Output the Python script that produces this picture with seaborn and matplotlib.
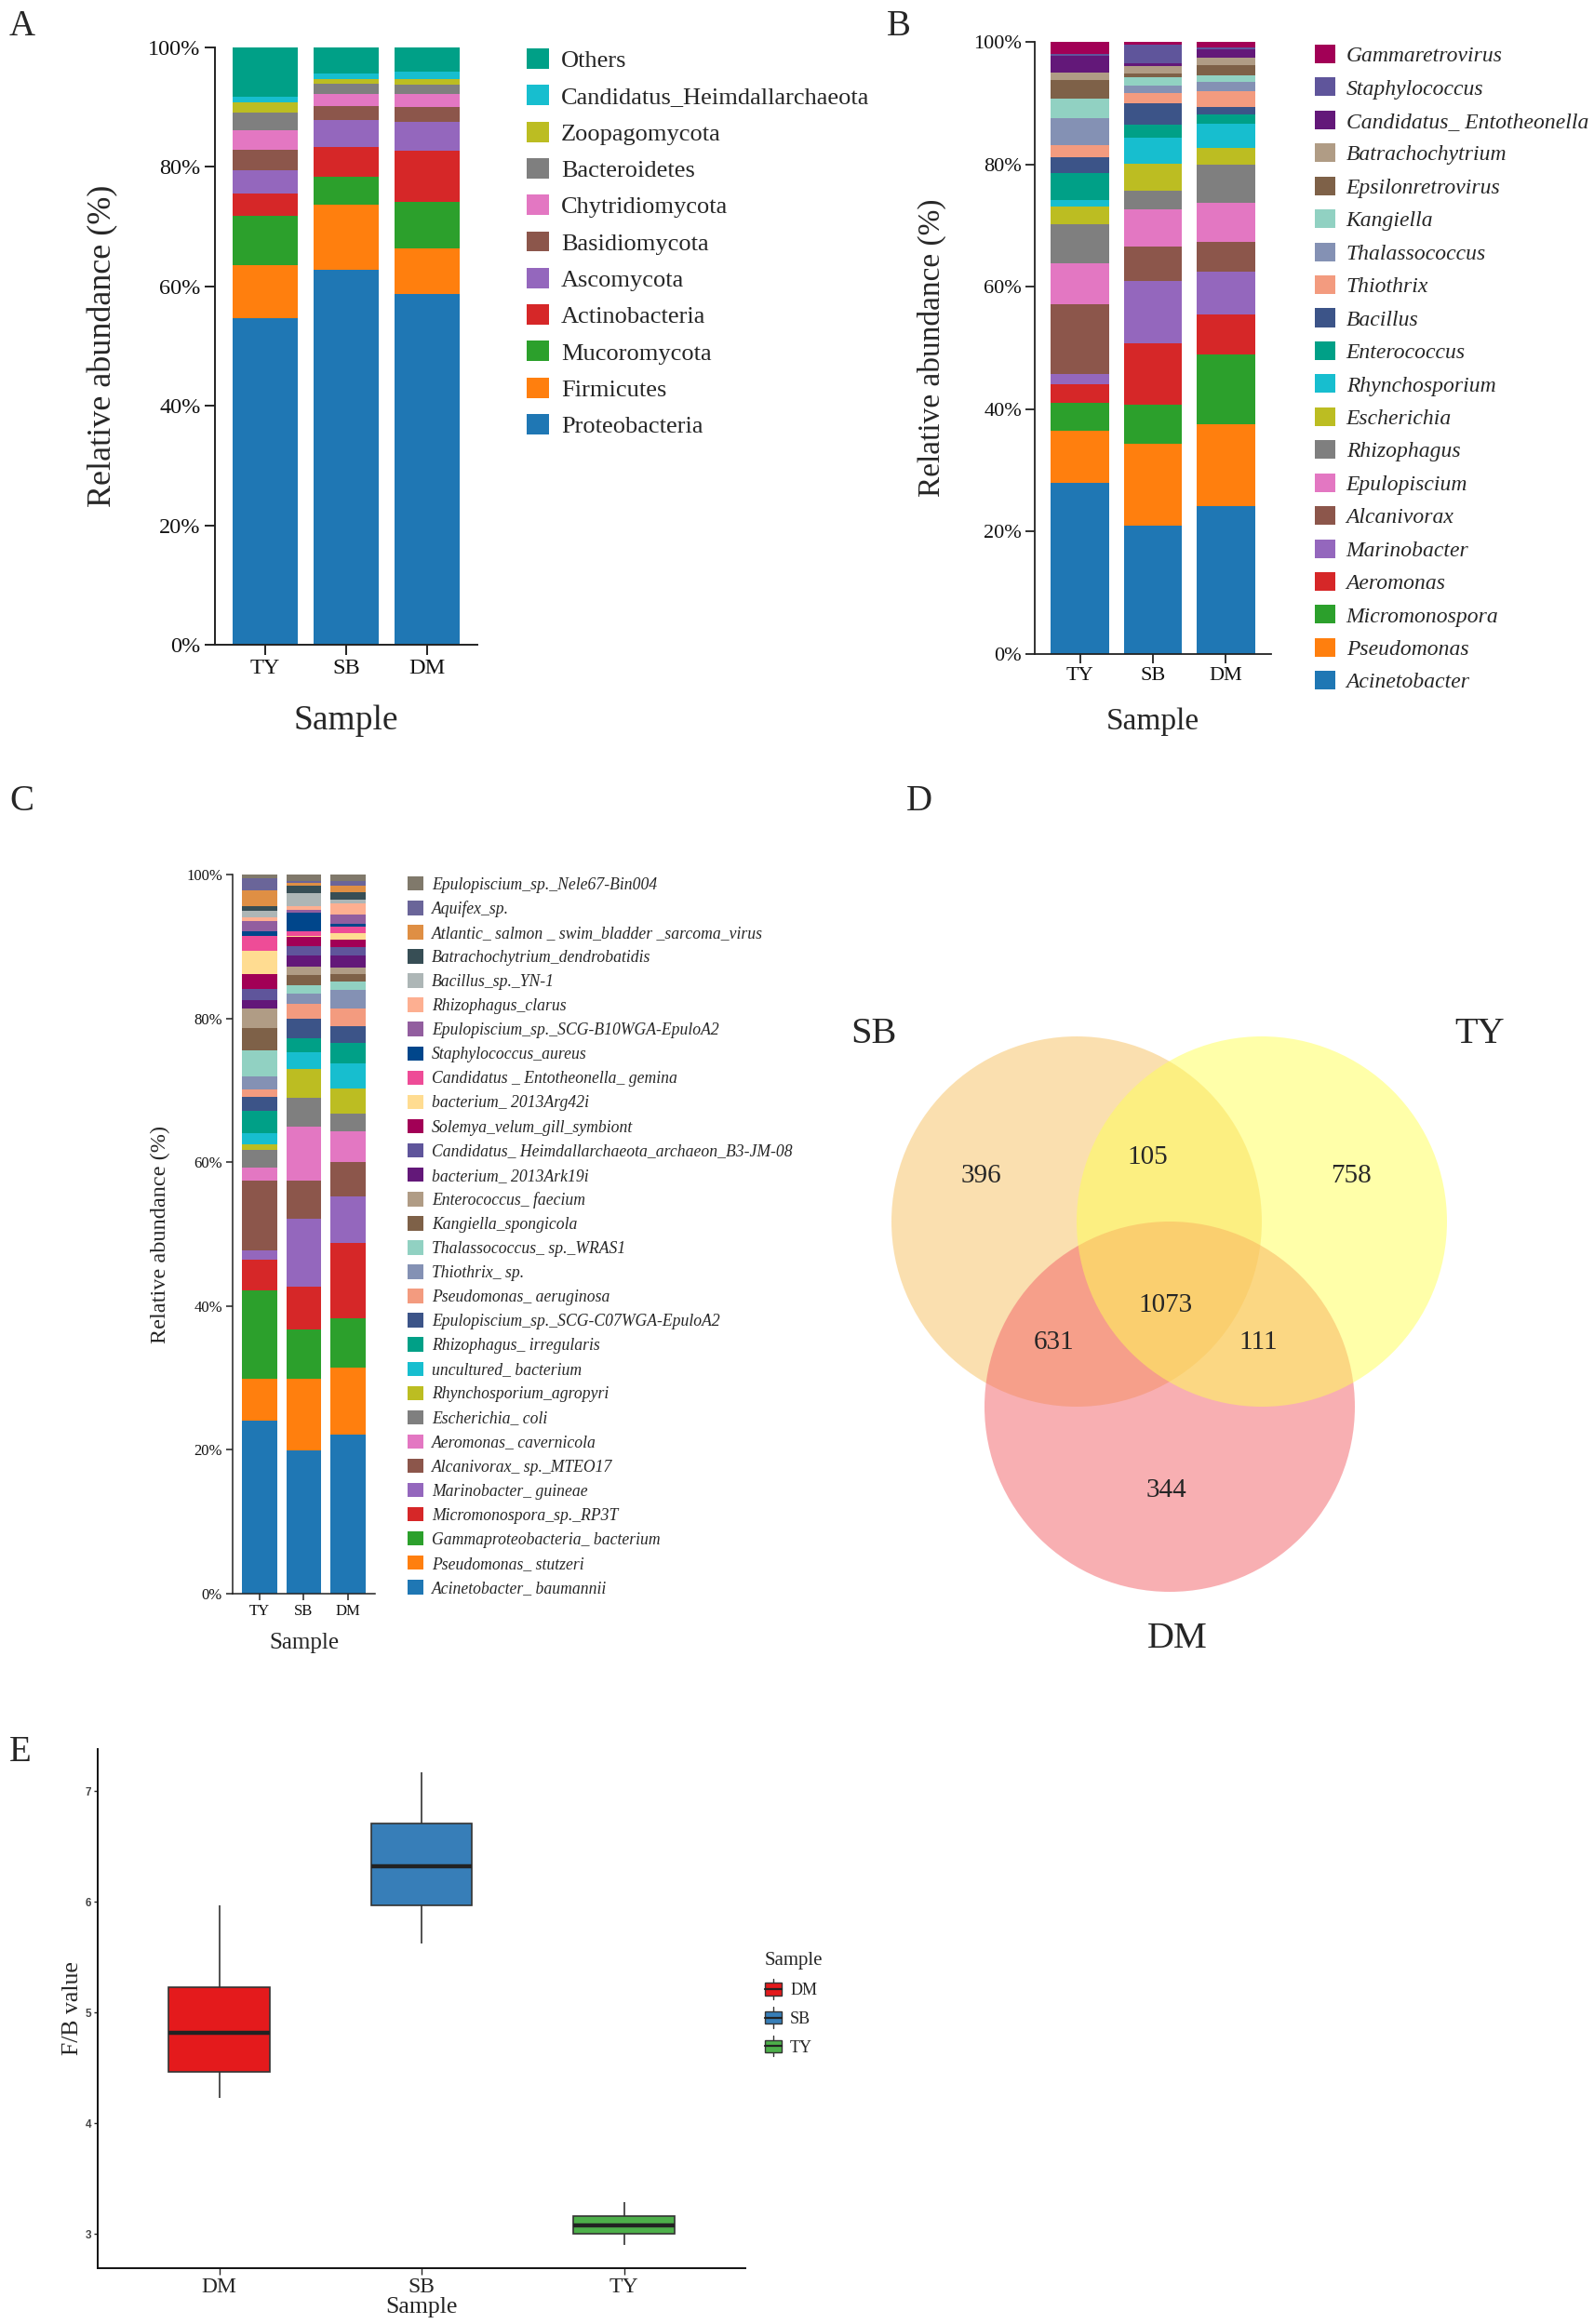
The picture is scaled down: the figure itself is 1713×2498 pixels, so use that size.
import numpy as np
import pandas as pd
import matplotlib
matplotlib.use("Agg")
import matplotlib.pyplot as plt
import seaborn as sns
from matplotlib.patches import Patch, Rectangle, Circle
from matplotlib.lines import Line2D
from matplotlib.legend_handler import HandlerBase

# ------------------------------------------------------------------ data
samples = ["TY", "SB", "DM"]

# Panel A  (listed bottom -> top of the stack)
phyla = ["Proteobacteria", "Firmicutes", "Mucoromycota", "Actinobacteria", "Ascomycota",
         "Basidiomycota", "Chytridiomycota", "Bacteroidetes", "Zoopagomycota",
         "Candidatus_Heimdallarchaeota", "Others"]
phyla_TY = [54.7, 8.9, 8.2, 3.7, 3.9, 3.5, 3.3, 2.9, 1.7, 1.0, 8.2]
phyla_SB = [62.7, 10.9, 4.8, 4.9, 4.6, 2.3, 2.0, 1.8, 0.7, 0.9, 4.4]
phyla_DM = [58.7, 7.7, 7.8, 8.5, 4.8, 2.6, 2.1, 1.6, 0.9, 1.2, 4.1]

# Panel B  (bottom -> top)
genera = ["Acinetobacter", "Pseudomonas", "Micromonospora", "Aeromonas", "Marinobacter",
          "Alcanivorax", "Epulopiscium", "Rhizophagus", "Escherichia", "Rhynchosporium",
          "Enterococcus", "Bacillus", "Thiothrix", "Thalassococcus", "Kangiella",
          "Epsilonretrovirus", "Batrachochytrium", "Candidatus_ Entotheonella",
          "Staphylococcus", "Gammaretrovirus"]
genera_TY = [27.9, 8.5, 4.7, 3.0, 1.7, 11.3, 6.8, 6.3, 2.9, 1.0, 4.4, 2.6, 2.1, 4.3, 3.3,
             3.0, 1.2, 2.7, 0.3, 2.0]
genera_SB = [21.0, 13.4, 6.3, 10.1, 10.1, 5.7, 6.0, 3.1, 4.4, 4.3, 2.1, 3.5, 1.6, 1.3, 1.3,
             0.6, 1.2, 0.5, 3.1, 0.4]
genera_DM = [24.2, 13.3, 11.4, 6.5, 7.0, 5.0, 6.3, 6.3, 2.7, 3.9, 1.5, 1.2, 2.7, 1.5, 1.0,
             1.7, 1.2, 1.4, 0.3, 0.9]

# Panel C  (bottom -> top)
species = ["Acinetobacter_ baumannii", "Pseudomonas_ stutzeri", "Gammaproteobacteria_ bacterium",
           "Micromonospora_sp._RP3T", "Marinobacter_ guineae", "Alcanivorax_ sp._MTEO17",
           "Aeromonas_ cavernicola", "Escherichia_ coli", "Rhynchosporium_agropyri",
           "uncultured_ bacterium", "Rhizophagus_ irregularis", "Epulopiscium_sp._SCG-C07WGA-EpuloA2",
           "Pseudomonas_ aeruginosa", "Thiothrix_ sp.", "Thalassococcus_ sp._WRAS1",
           "Kangiella_spongicola", "Enterococcus_ faecium", "bacterium_ 2013Ark19i",
           "Candidatus_ Heimdallarchaeota_archaeon_B3-JM-08", "Solemya_velum_gill_symbiont",
           "bacterium_ 2013Arg42i", "Candidatus _ Entotheonella_ gemina", "Staphylococcus_aureus",
           "Epulopiscium_sp._SCG-B10WGA-EpuloA2", "Rhizophagus_clarus", "Bacillus_sp._YN-1",
           "Batrachochytrium_dendrobatidis", "Atlantic_ salmon _ swim_bladder _sarcoma_virus",
           "Aquifex_sp.", "Epulopiscium_sp._Nele67-Bin004"]
species_TY = [24.1, 5.8, 12.3, 4.2, 1.3, 9.7, 1.8, 2.5, 0.8, 1.5, 3.2, 1.9, 1.0, 1.8, 3.6,
              3.2, 2.7, 1.2, 1.5, 2.0, 3.3, 2.0, 0.65, 1.45, 0.55, 0.85, 0.65, 2.3, 1.65, 0.5]
species_SB = [19.9, 10.0, 6.9, 5.9, 9.4, 5.3, 7.6, 4.0, 3.9, 2.4, 1.9, 2.8, 2.0, 1.4, 1.2,
              1.4, 1.2, 1.6, 1.2, 1.3, 0.15, 0.6, 2.6, 0.4, 0.6, 1.7, 1.1, 0.35, 0.25, 0.95]
species_DM = [22.1, 9.3, 6.9, 10.5, 6.5, 4.7, 4.3, 2.4, 3.5, 3.6, 2.8, 2.3, 2.5, 2.5, 1.2,
              1.1, 0.9, 1.6, 1.2, 1.0, 0.9, 1.0, 0.4, 1.2, 1.6, 0.5, 1.0, 1.0, 0.6, 0.9]

# Panel D  (Venn counts)
venn_sets = ["SB", "TY", "DM"]
venn_regions = ["SB", "SB&TY", "TY", "SB&TY&DM", "SB&DM", "TY&DM", "DM"]
venn_counts = [396, 105, 758, 1073, 631, 111, 344]

# Panel E  (F/B values per sample)
fb_groups = ["DM", "SB", "TY"]
fb_DM = [4.23, 4.46, 4.82, 5.23, 5.97]
fb_SB = [5.62, 5.97, 6.32, 6.71, 7.17]
fb_TY = [2.90, 3.00, 3.08, 3.16, 3.29]

# ------------------------------------------------------------------ style
tab10 = ["#1f77b4", "#ff7f0e", "#2ca02c", "#d62728", "#9467bd", "#8c564b", "#e377c2",
         "#7f7f7f", "#bcbd22", "#17becf"]
extra = ["#00A087", "#3C5488", "#F39B7F", "#8491B4", "#91D1C2", "#7E6148", "#B09C85",
         "#631879", "#5F559B", "#A20056", "#FFDC91", "#EE4C97", "#00468B", "#925E9F",
         "#FDAF91", "#ADB6B6", "#374E55", "#DF8F44", "#6A6599", "#80796B"]
colors_A = tab10 + ["#00A087"]
colors_B = tab10 + extra[:10]
colors_C = tab10 + extra
box_colors = ["#E41A1C", "#377EB8", "#4DAF4A"]
venn_colors = {"SB": "#F7C161", "TY": "#FFFF55", "DM": "#F36167"}

sns.set_style("ticks")
plt.rcParams["font.family"] = ["Liberation Serif", "DejaVu Serif"]
plt.rcParams["axes.edgecolor"] = "#222222"

W, H = 1713, 2498
fig = plt.figure(figsize=(W / 100, H / 100), dpi=100)


def fig_rect(x0, y0, x1, y1):
    return [x0 / W, 1 - y1 / H, (x1 - x0) / W, (y1 - y0) / H]


def stacked_panel(ax, names, values, colors, tick_fs, ylab_fs, xlab_fs, ylabpad, xlabpad,
                  ticklen, lw):
    df = pd.DataFrame(values, index=names, columns=samples)
    cum = df.cumsum()
    for i in range(len(names) - 1, -1, -1):
        sns.barplot(x=samples, y=cum.iloc[i].values, order=samples, color=colors[i],
                    saturation=1, width=0.8, linewidth=0, errorbar=None, ax=ax)
    ax.set_xlim(-0.62, 2.62)
    ax.set_ylim(0, 100)
    ax.set_yticks([0, 20, 40, 60, 80, 100])
    ax.set_yticklabels([f"{v}%" for v in [0, 20, 40, 60, 80, 100]])
    sns.despine(ax=ax)
    for s in ["left", "bottom"]:
        ax.spines[s].set_linewidth(lw)
    ax.tick_params(axis="both", labelsize=tick_fs, length=ticklen, width=lw,
                   colors="#222222", labelcolor="#111111", pad=3)
    ax.set_ylabel("Relative abundance (%)", fontsize=ylab_fs, labelpad=ylabpad)
    ax.set_xlabel("Sample", fontsize=xlab_fs, labelpad=xlabpad)


def stack_legend(names, colors, anchor, fs, hl, ls, italic):
    handles = [Patch(facecolor=c, edgecolor="none") for c in colors][::-1]
    labels = list(names)[::-1]
    prop = {"size": fs}
    if italic:
        prop["style"] = "italic"
    fig.legend(handles, labels, loc="upper left", bbox_to_anchor=anchor,
               bbox_transform=fig.transFigure, frameon=False, prop=prop,
               handlelength=hl, handleheight=hl, handletextpad=0.5,
               labelspacing=ls, borderpad=0, borderaxespad=0)


# ------------------------------------------------------------------ A
axA = fig.add_axes(fig_rect(231, 51, 513, 693))
valsA = np.column_stack([phyla_TY, phyla_SB, phyla_DM])
stacked_panel(axA, phyla, valsA, colors_A, 17.5, 26, 27, 23, 20, 8, 1.4)
stack_legend(phyla, colors_A, (566 / W, 1 - 52 / H), 19, 0.9, 0.54, False)

# ------------------------------------------------------------------ B
axB = fig.add_axes(fig_rect(1112, 45, 1366, 703))
valsB = np.column_stack([genera_TY, genera_SB, genera_DM])
stacked_panel(axB, genera, valsB, colors_B, 16, 24, 24, 21, 18, 7, 1.3)
stack_legend(genera, colors_B, (1413 / W, 1 - 48 / H), 17, 0.93, 0.52, True)

# ------------------------------------------------------------------ C
axC = fig.add_axes(fig_rect(250, 940, 403, 1713))
valsC = np.column_stack([species_TY, species_SB, species_DM])
stacked_panel(axC, species, valsC, colors_C, 12, 17.5, 18, 12, 11, 5, 1.1)
stack_legend(species, colors_C, (438 / W, 1 - 942 / H), 12.7, 0.97, 0.47, True)

# ------------------------------------------------------------------ D  (Venn)
axD = fig.add_axes(fig_rect(900, 830, 1713, 1790))
axD.set_xlim(900, 1713)
axD.set_ylim(1790, 830)
axD.axis("off")
r = 199
centers = {"SB": (1157, 1313), "TY": (1356, 1313), "DM": (1257, 1512)}
for name in ["SB", "DM", "TY"]:
    axD.add_patch(Circle(centers[name], r, facecolor=venn_colors[name], alpha=0.5,
                         edgecolor="none"))
set_label_pos = {"SB": (939, 1112), "TY": (1590, 1112), "DM": (1265, 1762)}
for name in venn_sets:
    axD.text(*set_label_pos[name], name, fontsize=29, ha="center", va="center")
region_pos = {"SB": (1054, 1264), "SB&TY": (1233, 1244), "TY": (1452, 1264),
              "SB&TY&DM": (1253, 1403), "SB&DM": (1133, 1443), "TY&DM": (1352, 1443),
              "DM": (1253, 1602)}
for reg, cnt in zip(venn_regions, venn_counts):
    axD.text(*region_pos[reg], str(cnt), fontsize=21, ha="center", va="center")

# ------------------------------------------------------------------ E  (boxplot)
axE = fig.add_axes(fig_rect(105, 1880, 801, 2438))
dfE = pd.DataFrame({"Sample": np.repeat(fb_groups, 5),
                    "FB": np.concatenate([fb_DM, fb_SB, fb_TY])})
sns.boxplot(data=dfE, x="Sample", y="FB", hue="Sample", order=fb_groups,
            hue_order=fb_groups, palette=box_colors, width=0.5, dodge=False,
            saturation=1, linecolor="#333333", linewidth=1.2, legend=False,
            showfliers=False, whis=1.5,
            medianprops=dict(linewidth=3.2, color="#222222"),
            capprops=dict(linewidth=0), ax=axE)
axE.set_xlim(-0.6, 2.6)
axE.set_ylim(2.69, 7.38)
axE.set_yticks([3, 4, 5, 6, 7])
sns.despine(ax=axE)
for s in ["left", "bottom"]:
    axE.spines[s].set_linewidth(1.4)
    axE.spines[s].set_color("#111111")
axE.tick_params(axis="y", length=3, width=1, pad=2)
axE.tick_params(axis="x", length=5, width=1, labelsize=17, pad=2)
for t in axE.get_yticklabels():
    t.set_fontfamily(["Liberation Sans", "DejaVu Sans"])
    t.set_fontweight("bold")
    t.set_fontsize(8.5)
    t.set_color("#444444")
axE.set_ylabel("F/B value", fontsize=18.5, labelpad=2)
axE.set_xlabel("Sample", fontsize=18.5, labelpad=0)


class BoxKey(HandlerBase):
    def create_artists(self, legend, orig_handle, xdescent, ydescent, width, height,
                       fontsize, trans):
        fc = orig_handle.get_facecolor()
        x0, y0 = -xdescent, -ydescent
        cx = x0 + width / 2
        wl = Line2D([cx, cx], [y0 - 0.3 * height, y0 + 1.3 * height], color="#333333",
                    lw=1, transform=trans)
        box = Rectangle((x0, y0), width, height, facecolor=fc, edgecolor="#333333",
                        lw=1, transform=trans)
        med = Line2D([x0, x0 + width], [y0 + height / 2] * 2, color="#222222", lw=1.6,
                     transform=trans)
        return [wl, box, med]


e_handles = [Patch(facecolor=c) for c in box_colors]
legE = axE.legend(e_handles, fb_groups, handler_map={Patch: BoxKey()}, loc="upper left",
                  bbox_to_anchor=(822 / W, 1 - 2098 / H), bbox_transform=fig.transFigure,
                  frameon=False, title="Sample", prop={"size": 13},
                  title_fontproperties={"size": 15}, handlelength=1.0, handleheight=0.8,
                  labelspacing=0.76, handletextpad=0.5, borderpad=0, borderaxespad=0,
                  alignment="left")

# ------------------------------------------------------------------ panel letters
for letter, (x, y) in {"A": (10, 10), "B": (953, 10), "C": (10, 843), "D": (974, 843),
                       "E": (10, 1865)}.items():
    fig.text(x / W, 1 - y / H, letter, fontsize=28, ha="left", va="top")

fig.savefig("out.png", dpi=100)
